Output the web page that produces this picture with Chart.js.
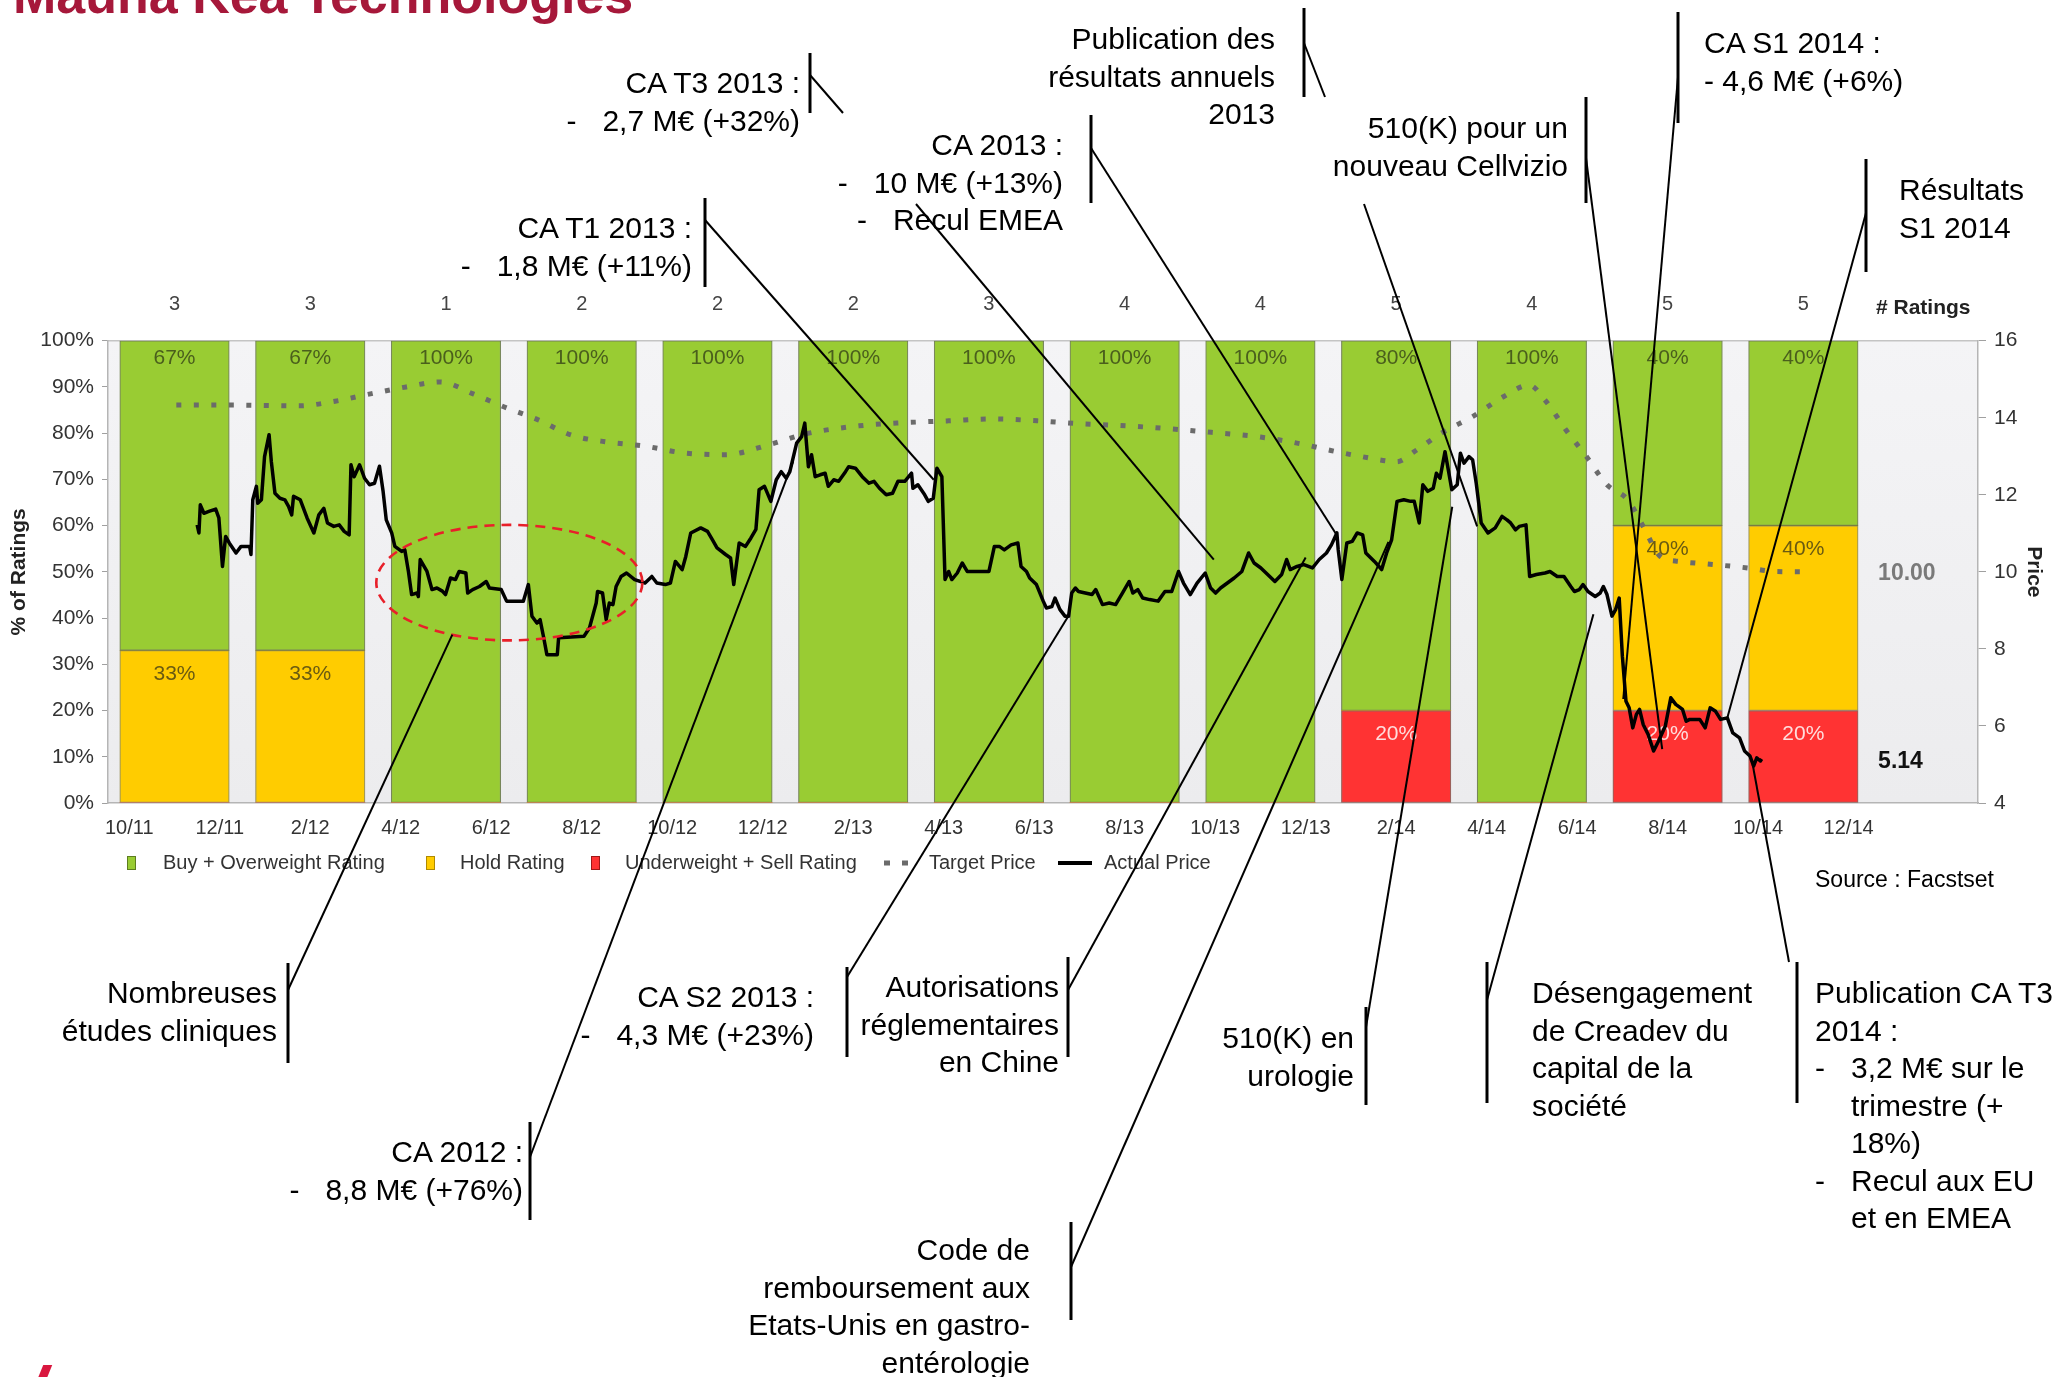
<!DOCTYPE html>
<html><head><meta charset="utf-8">
<script src="https://cdn.jsdelivr.net/npm/chart.js@4.4.1/dist/chart.umd.min.js"></script>
<style>
html,body{margin:0;padding:0;background:#fff;}
#wrap{position:relative;width:2067px;height:1377px;overflow:hidden;font-family:"Liberation Sans",Arial,sans-serif;}
#c{position:absolute;left:0;top:0;}
.t{position:absolute;font-size:30px;line-height:37.5px;color:#000;white-space:pre;}
.t.r{text-align:right;}
.b{display:inline-block;width:36px;text-align:left;}
#title{position:absolute;left:13px;top:-31px;font-weight:bold;font-size:52px;line-height:52px;color:#A6183A;white-space:nowrap;}
#source{position:absolute;left:1815px;top:865px;font-size:23px;line-height:28px;color:#000;white-space:nowrap;}
#logo{position:absolute;left:40px;top:1365px;width:9px;height:16px;background:#D9173F;transform:skewX(-22deg);}
</style></head>
<body><div id="wrap">
<canvas id="c" width="2067" height="1377"></canvas>
<div id="title">Mauna Kea Technologies</div>
<div id="source">Source : Facstset</div>
<div id="logo"></div>
</div>
<script>
// ---------- DATA ----------
const xTickMonths = [0,2,4,6,8,10,12,14,16,18,20,22,24,26,28,30,32,34,36,38];
const xTickLabels = ['10/11','12/11','2/12','4/12','6/12','8/12','10/12','12/12','2/13','4/13','6/13','8/13','10/13','12/13','2/14','4/14','6/14','8/14','10/14','12/14'];
const quarterMonths = [1,4,7,10,13,16,19,22,25,28,31,34,37];
const buyPct  = [67,67,100,100,100,100,100,100,100,80,100,40,40];
const holdPct = [33,33,0,0,0,0,0,0,0,0,0,40,40];
const sellPct = [0,0,0,0,0,0,0,0,0,20,0,20,20];
const ratingCounts = [3,3,1,2,2,2,3,4,4,5,4,5,5];

const priceMonths = [1.50,1.54,1.57,1.65,1.76,1.91,1.98,2.06,2.13,2.21,2.36,2.47,2.66,2.69,2.73,2.81,2.84,2.92,2.99,3.09,3.14,3.22,3.33,3.44,3.52,3.59,3.63,3.78,3.93,4.08,4.19,4.30,4.38,4.52,4.64,4.75,4.86,4.90,4.97,5.09,5.20,5.31,5.42,5.53,5.61,5.68,5.80,5.87,6.02,6.09,6.17,6.24,6.36,6.39,6.43,6.58,6.69,6.80,6.92,6.99,7.10,7.21,7.29,7.44,7.48,7.59,7.74,7.89,7.96,8.22,8.34,8.71,8.82,8.90,9.01,9.08,9.16,9.23,9.46,9.49,10.05,10.17,10.32,10.35,10.46,10.54,10.61,10.69,10.76,10.87,10.99,11.17,11.40,11.55,11.66,11.85,11.96,12.07,12.22,12.30,12.41,12.63,12.78,12.89,12.99,13.18,13.29,13.36,13.48,13.62,13.74,13.85,13.92,14.04,14.18,14.30,14.41,14.52,14.60,14.75,14.86,14.93,15.01,15.08,15.16,15.27,15.38,15.45,15.57,15.68,15.83,15.90,16.05,16.20,16.35,16.46,16.58,16.73,16.87,16.99,17.14,17.29,17.32,17.43,17.58,17.66,17.77,17.85,17.96,18.03,18.11,18.18,18.30,18.41,18.52,18.67,19.00,19.12,19.23,19.34,19.49,19.64,19.71,19.83,19.90,20.05,20.20,20.27,20.39,20.46,20.57,20.68,20.76,20.83,20.91,20.98,21.13,21.28,21.36,21.51,21.66,21.80,21.95,22.10,22.18,22.29,22.40,22.55,22.74,22.89,23.04,23.19,23.30,23.45,23.60,23.78,23.90,24.01,24.12,24.27,24.42,24.59,24.74,24.86,25.01,25.16,25.32,25.47,25.58,25.66,25.81,25.96,26.15,26.30,26.46,26.57,26.69,26.72,26.80,26.91,27.03,27.14,27.26,27.33,27.52,27.68,27.79,27.90,28.02,28.17,28.32,28.40,28.51,28.59,28.70,28.82,28.89,28.97,29.08,29.16,29.23,29.35,29.42,29.50,29.61,29.69,29.77,29.88,30.03,30.19,30.34,30.45,30.53,30.64,30.72,30.87,30.95,31.10,31.29,31.40,31.56,31.71,31.86,31.94,32.05,32.13,32.24,32.40,32.51,32.58,32.66,32.77,32.85,32.93,33.00,33.08,33.15,33.23,33.31,33.38,33.46,33.57,33.69,33.80,33.95,34.07,34.18,34.33,34.41,34.49,34.71,34.83,34.94,35.06,35.17,35.32,35.44,35.59,35.70,35.82,35.90,35.97,36.05,36.08];
const priceValues = [11.22,11.01,11.74,11.52,11.57,11.63,11.40,10.14,10.92,10.75,10.49,10.66,10.66,10.45,11.87,12.22,11.78,11.87,12.99,13.56,12.86,12.04,11.91,11.87,11.70,11.48,11.96,11.87,11.40,11.01,11.48,11.65,11.27,11.18,11.22,11.05,10.96,12.78,12.47,12.78,12.43,12.26,12.30,12.74,12.09,11.35,11.01,10.66,10.53,10.57,10.01,9.41,9.45,9.36,10.32,10.01,9.54,9.58,9.50,9.41,9.84,9.80,10.01,9.97,9.45,9.54,9.62,9.75,9.58,9.54,9.24,9.24,9.67,8.85,8.67,8.76,8.29,7.85,7.85,8.29,8.33,8.54,9.19,9.49,9.45,8.76,9.19,9.15,9.62,9.88,9.97,9.80,9.71,9.88,9.71,9.67,9.71,10.27,10.06,10.40,11.01,11.14,11.05,10.83,10.62,10.45,10.36,9.67,10.75,10.66,10.88,11.10,12.13,12.22,11.83,12.39,12.60,12.43,12.60,13.34,13.51,13.86,12.73,13.04,12.47,12.52,12.56,12.22,12.39,12.35,12.60,12.73,12.69,12.47,12.30,12.35,12.17,12.00,12.04,12.35,12.35,12.56,12.17,12.26,12.00,11.83,11.91,12.69,12.47,9.80,10.01,9.80,9.97,10.23,10.01,10.01,10.01,10.66,10.66,10.57,10.70,10.75,10.14,10.01,9.84,9.67,9.24,9.06,9.10,9.32,9.02,8.85,8.85,9.45,9.58,9.49,9.45,9.41,9.54,9.15,9.19,9.15,9.45,9.75,9.45,9.54,9.32,9.28,9.24,9.49,9.49,10.01,9.71,9.41,9.71,9.97,9.58,9.45,9.58,9.71,9.84,10.01,10.49,10.23,10.10,9.93,9.75,9.93,10.32,10.06,10.14,10.19,10.10,10.32,10.49,10.70,11.01,10.57,9.80,10.75,10.79,11.01,10.96,10.49,10.27,10.06,10.49,10.83,11.83,11.87,11.83,11.83,11.27,12.26,12.09,12.17,12.56,12.43,13.12,12.60,12.13,12.26,13.08,12.82,12.99,12.91,12.30,11.27,11.01,11.14,11.44,11.35,11.27,11.09,11.18,11.22,9.88,9.93,9.97,10.01,9.88,9.88,9.62,9.49,9.54,9.67,9.49,9.36,9.45,9.62,9.41,8.85,9.02,9.32,7.81,6.64,6.47,5.95,6.30,6.43,6.04,5.78,5.35,5.61,6.00,6.73,6.56,6.43,6.12,6.17,6.17,5.95,6.47,6.38,6.17,6.21,5.82,5.69,5.35,5.22,4.96,5.17,5.09,5.14];

const targetMonths = [1.04,2.23,3.76,4.55,5.33,6.12,6.87,7.60,8.29,8.99,9.77,10.56,11.36,12.24,13.17,14.14,14.94,16.13,17.10,18.10,19.07,20.07,21.06,22.03,23.03,24.02,25.00,25.99,26.48,27.20,28.02,28.40,29.00,29.69,30.38,30.94,31.29,31.75,32.20,32.66,33.12,33.46,33.84,34.26,35.02,35.78,36.37,37.00];
const targetValues = [14.33,14.33,14.31,14.43,14.62,14.80,14.93,14.62,14.28,13.97,13.55,13.37,13.27,13.09,13.04,13.30,13.58,13.79,13.87,13.92,13.97,13.92,13.84,13.79,13.71,13.61,13.50,13.30,13.17,13.00,12.86,13.12,13.60,14.03,14.55,14.85,14.46,13.69,13.00,12.26,11.87,11.18,10.40,10.27,10.19,10.10,10.01,10.00];

// ---------- LAYOUT (annotations, pixel positions on the page) ----------
const notes = [
 {align:'right', x:800, y:83, lines:['CA T3 2013 :','-\t2,7 M€ (+32%)'], bar:[810,53,113], links:[{from:[810,75], toPx:[843,113]}]},
 {align:'right', x:692, y:228, lines:['CA T1 2013 :','-\t1,8 M€ (+11%)'], bar:[705,198,287], links:[{from:[705,220], to:[17.78,12.39]}]},
 {align:'right', x:1063, y:145, lines:['CA 2013 :','-\t10 M€ (+13%)','-\tRecul EMEA'], bar:[1091,115,203], links:[{from:[1091,148], to:[26.69,10.95]},{from:[916,204], to:[23.97,10.32]}]},
 {align:'right', x:1275, y:39, lines:['Publication des','résultats annuels','2013'], bar:[1304,8,97], links:[{from:[1304,43], toPx:[1325,97]}]},
 {align:'right', x:1568, y:128, lines:['510(K) pour un','nouveau Cellvizio'], bar:[1586,97,203], links:[{from:[1586,158], to:[33.88,5.40]},{from:[1364,204], to:[29.79,11.18]}]},
 {align:'left', x:1704, y:43, lines:['CA S1 2014 :','- 4,6 M€ (+6%)'], bar:[1678,12,123], links:[{from:[1678,77], to:[33.02,6.70]}]},
 {align:'left', x:1899, y:190, lines:['Résultats','S1 2014'], bar:[1866,159,272], links:[{from:[1866,213], to:[35.32,6.21]}]},
 {align:'right', x:277, y:993, lines:['Nombreuses','études cliniques'], bar:[288,963,1063], links:[{from:[288,990], to:[7.14,8.37]}]},
 {align:'right', x:523, y:1152, lines:['CA 2012 :','-\t8,8 M€ (+76%)'], bar:[530,1122,1220], links:[{from:[530,1157], to:[14.67,12.86]}]},
 {align:'right', x:814, y:997, lines:['CA S2 2013 :','-\t4,3 M€ (+23%)'], bar:[847,967,1057], links:[{from:[847,977], to:[20.75,8.84]}]},
 {align:'right', x:1059, y:987, lines:['Autorisations','réglementaires','en Chine'], bar:[1068,957,1057], links:[{from:[1068,990], to:[26.00,10.37]}]},
 {align:'right', x:1030, y:1250, lines:['Code de','remboursement aux','Etats-Unis en gastro-','entérologie'], bar:[1071,1222,1320], links:[{from:[1071,1267], to:[27.83,10.78]}]},
 {align:'right', x:1354, y:1038, lines:['510(K) en','urologie'], bar:[1366,1007,1105], links:[{from:[1366,1027], to:[29.24,11.69]}]},
 {align:'left', x:1532, y:993, lines:['Désengagement','de Creadev du','capital de la','société'], bar:[1487,962,1103], links:[{from:[1487,1000], to:[32.36,8.90]}]},
 {align:'left', x:1815, y:993, lines:['Publication CA T3','2014 :','-\t3,2 M€ sur le','\ttrimestre (+','\t18%)','-\tRecul aux EU','\tet en EMEA'], bar:[1797,962,1103], links:[{from:[1789,962], to:[35.88,5.00]}]}
];
const ellipseNote = {center:[8.40,9.72], rx:2.94, ry:1.50};

// ---------- build annotation text ----------
const wrap = document.getElementById('wrap');
function esc(s){return s.replace(/&/g,'&amp;').replace(/</g,'&lt;');}
notes.forEach(n => {
  const d = document.createElement('div');
  d.className = 't' + (n.align === 'right' ? ' r' : '');
  d.style.top = (n.y - 18.75) + 'px';
  if (n.align === 'right') d.style.right = (2067 - n.x) + 'px'; else d.style.left = n.x + 'px';
  d.innerHTML = n.lines.map(l => {
    if (l.startsWith('-\t')) return '<span class="b">-</span>' + esc(l.slice(2));
    if (l.startsWith('\t')) return '<span class="b"></span>' + esc(l.slice(1));
    return esc(l);
  }).join('\n');
  wrap.appendChild(d);
});

// ---------- chart ----------
Chart.defaults.font.family = '"Liberation Sans", Arial, sans-serif';
const pts = (xs, ys) => xs.map((x, i) => ({x: x, y: ys[i]}));
const barBorder = c => (c.raw && c.raw.y > 0) ? 1.2 : 0;
const FONT = '"Liberation Sans", Arial, sans-serif';

const overlay = {
  id: 'overlay',
  beforeDraw(chart) {
    const {ctx, chartArea: a} = chart;
    ctx.save();
    ctx.fillStyle = '#fff';
    ctx.fillRect(0, 0, chart.width, chart.height);
    const g = ctx.createLinearGradient(0, a.top, 0, a.bottom);
    g.addColorStop(0, '#f4f4f6'); g.addColorStop(1, '#ececee');
    ctx.fillStyle = g;
    ctx.fillRect(a.left, a.top, a.right - a.left, a.bottom - a.top);
    ctx.strokeStyle = '#c4c4c4'; ctx.lineWidth = 1.5;
    ctx.beginPath(); ctx.moveTo(a.left, a.top); ctx.lineTo(a.right, a.top); ctx.stroke();
    ctx.restore();
  },
  afterDatasetDraw(chart, args) {
    if (args.index !== 2) return;
    const ctx = chart.ctx;
    ctx.save();
    ctx.font = '21px ' + FONT;
    ctx.textAlign = 'center'; ctx.textBaseline = 'middle';
    const sets = [{i:2, vals:sellPct, col:'rgba(255,235,235,0.92)', off:24}, {i:3, vals:holdPct, col:'rgba(80,70,20,0.85)', off:24}, {i:4, vals:buyPct, col:'rgba(60,75,25,0.85)', off:18}];
    sets.forEach(s => {
      const meta = chart.getDatasetMeta(s.i);
      meta.data.forEach((el, k) => {
        if (s.vals[k] > 0) { ctx.fillStyle = s.col; ctx.fillText(s.vals[k] + '%', el.x, el.y + s.off); }
      });
    });
    ctx.restore();
  },
  afterDraw(chart) {
    const {ctx, chartArea: a} = chart;
    const xs = chart.scales.x, ys = chart.scales.y1;
    ctx.save();
    // rating counts
    const topMeta = chart.getDatasetMeta(4);
    ctx.font = '20px ' + FONT; ctx.fillStyle = '#444'; ctx.textAlign = 'center'; ctx.textBaseline = 'middle';
    topMeta.data.forEach((el, k) => ctx.fillText(String(ratingCounts[k]), el.x, a.top - 36));
    ctx.font = 'bold 21px ' + FONT; ctx.fillStyle = '#222'; ctx.textAlign = 'left';
    ctx.fillText('# Ratings', 1876, a.top - 32);
    // last values
    const lastBar = topMeta.data[topMeta.data.length - 1];
    const lx = lastBar.x + lastBar.width / 2 + 20;
    ctx.font = 'bold 23px ' + FONT;
    ctx.fillStyle = '#7a7a7a';
    ctx.fillText(targetValues[targetValues.length - 1].toFixed(2), lx, ys.getPixelForValue(targetValues[targetValues.length - 1]) + 2);
    ctx.fillStyle = '#111';
    ctx.fillText(priceValues[priceValues.length - 1].toFixed(2), lx, ys.getPixelForValue(priceValues[priceValues.length - 1]) + 3);
    // legend
    const ly = 863;
    ctx.font = '20px ' + FONT; ctx.fillStyle = '#333'; ctx.textBaseline = 'middle';
    const box = (x, c, b) => { ctx.fillStyle = c; ctx.fillRect(x, ly - 7, 9, 14); ctx.strokeStyle = b; ctx.lineWidth = 1; ctx.strokeRect(x + 0.5, ly - 6.5, 8, 13); };
    box(127, '#99CC33', '#5d7d1f'); ctx.fillStyle = '#333'; ctx.fillText('Buy + Overweight Rating', 163, ly);
    box(426, '#FFCC00', '#b08a00'); ctx.fillStyle = '#333'; ctx.fillText('Hold Rating', 460, ly);
    box(591, '#FF3333', '#a01818'); ctx.fillStyle = '#333'; ctx.fillText('Underweight + Sell Rating', 625, ly);
    ctx.strokeStyle = '#6b6b6b'; ctx.lineWidth = 5; ctx.setLineDash([6, 12]);
    ctx.beginPath(); ctx.moveTo(884, ly); ctx.lineTo(914, ly); ctx.stroke(); ctx.setLineDash([]);
    ctx.fillStyle = '#333'; ctx.fillText('Target Price', 929, ly);
    ctx.strokeStyle = '#000'; ctx.lineWidth = 4;
    ctx.beginPath(); ctx.moveTo(1058, ly); ctx.lineTo(1092, ly); ctx.stroke();
    ctx.fillText('Actual Price', 1104, ly);
    // dashed ellipse
    const cx = xs.getPixelForValue(ellipseNote.center[0]), cy = ys.getPixelForValue(ellipseNote.center[1]);
    const rx = xs.getPixelForValue(ellipseNote.center[0] + ellipseNote.rx) - cx;
    const ry = cy - ys.getPixelForValue(ellipseNote.center[1] + ellipseNote.ry);
    ctx.strokeStyle = '#E8202A'; ctx.lineWidth = 2.6; ctx.setLineDash([10, 7]);
    ctx.beginPath(); ctx.ellipse(cx, cy, rx, ry, 0, 0, Math.PI * 2); ctx.stroke(); ctx.setLineDash([]);
    // annotation bars and connectors
    ctx.strokeStyle = '#000'; ctx.lineCap = 'butt';
    notes.forEach(n => {
      ctx.lineWidth = 3;
      ctx.beginPath(); ctx.moveTo(n.bar[0], n.bar[1]); ctx.lineTo(n.bar[0], n.bar[2]); ctx.stroke();
      ctx.lineWidth = 2;
      n.links.forEach(l => {
        const end = l.to ? [xs.getPixelForValue(l.to[0]), ys.getPixelForValue(l.to[1])] : l.toPx;
        ctx.beginPath(); ctx.moveTo(l.from[0], l.from[1]); ctx.lineTo(end[0], end[1]); ctx.stroke();
      });
    });
    ctx.restore();
  }
};

new Chart(document.getElementById('c'), {
  type: 'bar',
  data: {
    datasets: [
      {type:'line', label:'Actual Price', data:pts(priceMonths, priceValues), yAxisID:'y1', borderColor:'#000', borderWidth:3.5, pointRadius:0, tension:0, borderJoinStyle:'round', order:0},
      {type:'line', label:'Target Price', data:pts(targetMonths, targetValues), yAxisID:'y1', borderColor:'#6b6b6b', borderWidth:5, borderDash:[5,12.5], pointRadius:0, cubicInterpolationMode:'monotone', order:1},
      {label:'Underweight + Sell Rating', data:pts(quarterMonths, sellPct), yAxisID:'y', backgroundColor:'#FF3333', borderColor:'rgba(120,40,30,0.7)', borderWidth:barBorder, borderSkipped:false, barThickness:109.5, order:2},
      {label:'Hold Rating', data:pts(quarterMonths, holdPct), yAxisID:'y', backgroundColor:'#FFCC00', borderColor:'rgba(120,110,30,0.7)', borderWidth:barBorder, borderSkipped:false, barThickness:109.5, order:2},
      {label:'Buy + Overweight Rating', data:pts(quarterMonths, buyPct), yAxisID:'y', backgroundColor:'#99CC33', borderColor:'rgba(80,100,40,0.75)', borderWidth:barBorder, borderSkipped:false, barThickness:109.5, order:2}
    ]
  },
  options: {
    responsive:false, animation:false, devicePixelRatio:1,
    layout:{padding:{left:0, top:340.7, right:14, bottom:534}},
    plugins:{legend:{display:false}, tooltip:{enabled:false}, title:{display:false}},
    scales: {
      x: {type:'linear', min:-0.47, max:40.86, offset:false, stacked:true,
          grid:{display:false, drawTicks:false},
          border:{display:true, color:'#b5b5b5', width:1.5},
          ticks:{font:{size:20}, color:'#333', padding:13, maxRotation:0, autoSkip:false,
                 callback:(v) => { const i = xTickMonths.indexOf(v); return i >= 0 ? xTickLabels[i] : ''; }},
          afterBuildTicks:(s) => { s.ticks = xTickMonths.map(v => ({value:v})); },
          afterFit:(s) => { s.height = 40; }},
      y: {position:'left', min:0, max:100, stacked:true,
          ticks:{stepSize:10, callback:(v) => v + '%', font:{size:21}, color:'#333', padding:8},
          grid:{drawOnChartArea:false, drawTicks:true, tickLength:6, color:'#a0a0a0'},
          border:{display:true, color:'#b5b5b5', width:1.5},
          title:{display:true, text:'% of Ratings', font:{size:21, weight:'bold'}, color:'#222', padding:{top:7, bottom:0}},
          afterFit:(s) => { s.width = 108; }},
      y1: {position:'right', min:4, max:16,
          ticks:{stepSize:2, font:{size:21}, color:'#333', padding:8},
          grid:{drawOnChartArea:false, drawTicks:true, tickLength:8, color:'#a0a0a0'},
          border:{display:true, color:'#b5b5b5', width:1.5},
          title:{display:true, text:'Price', font:{size:21, weight:'bold'}, color:'#222', padding:{top:7, bottom:0}},
          afterFit:(s) => { s.width = 75; }}
    }
  },
  plugins:[overlay]
});
</script>
</body></html>
